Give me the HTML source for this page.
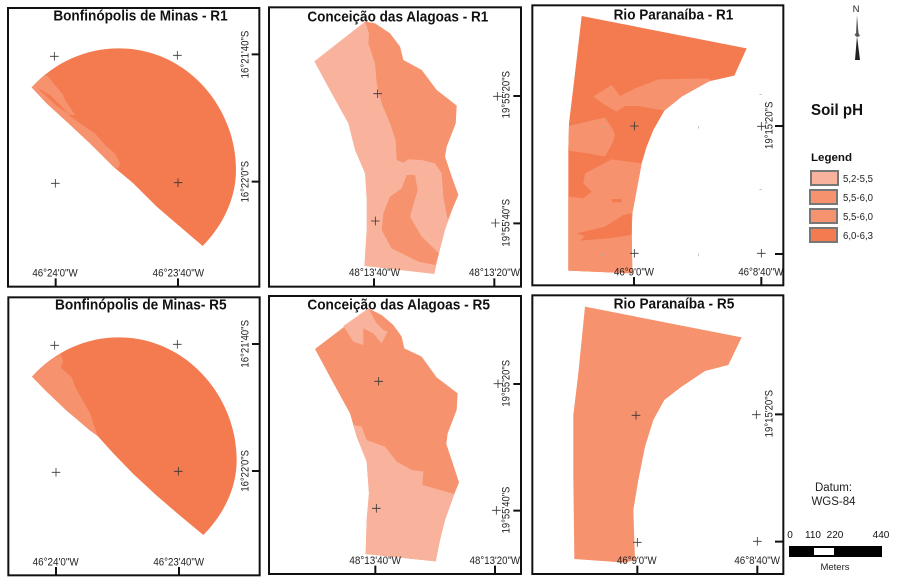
<!DOCTYPE html>
<html lang="en">
<head>
<meta charset="utf-8">
<title>Soil pH maps</title>
<style>
html,body{margin:0;padding:0;background:#fff;width:906px;height:584px;overflow:hidden}
svg{display:block}
text{font-family:"Liberation Sans",sans-serif;fill:#222}
.t{font-weight:bold;font-size:43px;fill:#111}
.l{font-size:32px}
.f{fill:none;stroke:#111;stroke-width:6}
.k{stroke:#111;stroke-width:6;fill:none}
.c{stroke:#333;stroke-width:2.4;fill:none}
.a{fill:#F9B39D}.b{fill:#F6926E}.d{fill:#F47B50}
.s{stroke:#777;stroke-width:2}
</style>
</head>
<body>
<svg width="906" height="584" viewBox="0 0 906 584" xmlns="http://www.w3.org/2000/svg">
<rect width="906" height="584" fill="#fff"/>

<g transform="scale(.33333)">
  <rect class="f" x="24" y="24" width="754" height="836"/>
  <text class="t" x="160" y="62" textLength="523" lengthAdjust="spacingAndGlyphs">Bonfinópolis de Minas - R1</text>
  <path class="d" d="M95 262C165 185 260 145 355 145C560 145 708 320 708 510C708 600 665 680 608 738L540 680L470 620L400 550L340 500L270 430L200 365L140 310Z"/>
  <polygon class="b" points="95,262 125,232 140,225 190,285 195,300 225,345 205,345 240,370 285,400 320,440 345,460 360,490 355,505 340,500 270,430 200,365 140,310"/>
  <polygon class="d" points="110,262 150,285 200,335 225,352 170,318"/>
  <path class="c" d="M150 169h26M163 156v26M519 166h26M532 153v26M153 550h26M166 537v26M521 548h26M534 535v26"/>
  <path class="k" d="M167 835v25M534 835v25M755 163h23M755 545h23"/>
  <text class="l" x="97" y="830" textLength="136" lengthAdjust="spacingAndGlyphs">46°24'0"W</text>
  <text class="l" x="458" y="830" textLength="154" lengthAdjust="spacingAndGlyphs">46°23'40"W</text>
  <text class="l" transform="translate(745 235) rotate(-90)" textLength="143" lengthAdjust="spacingAndGlyphs">16°21'40"S</text>
  <text class="l" transform="translate(745 607) rotate(-90)" textLength="124" lengthAdjust="spacingAndGlyphs">16°22'0"S</text>
</g>

<g transform="translate(265 0) scale(.33333)">
  <rect class="f" x="12" y="22" width="756" height="838"/>
  <text class="t" x="127" y="64" textLength="543" lengthAdjust="spacingAndGlyphs">Conceição das Alagoas - R1</text>
  <polygon class="a" points="148,184 300,65 330,70 375,100 405,140 415,180 470,210 515,270 575,317 572,370 545,440 540,470 560,530 580,585 565,620 540,690 522,760 508,822 298,798 305,690 305,600 300,520 270,450 250,370 200,280"/>
  <polygon class="b" points="300,65 330,70 375,100 405,140 415,180 470,210 515,270 575,317 572,370 545,440 540,470 560,530 580,585 565,620 548,660 535,590 530,520 510,490 470,480 430,478 415,488 395,480 392,420 375,370 350,310 335,250 330,190 310,130 312,100"/>
  <polygon class="b" points="425,525 450,525 458,570 435,650 470,710 522,760 510,795 460,785 380,745 350,690 355,640 375,590 410,565"/>
  <path class="c" d="M325 281h26M338 268v26M684 289h26M697 276v26M318 663h26M331 650v26M678 669h26M691 656v26"/>
  <path class="k" d="M327 835v25M688 835v25M745 288h23M745 670h23"/>
  <text class="l" x="252" y="828" textLength="153" lengthAdjust="spacingAndGlyphs">48°13'40"W</text>
  <text class="l" x="612" y="828" textLength="153" lengthAdjust="spacingAndGlyphs">48°13'20"W</text>
  <text class="l" transform="translate(733 355) rotate(-90)" textLength="142" lengthAdjust="spacingAndGlyphs">19°55'20"S</text>
  <text class="l" transform="translate(733 740) rotate(-90)" textLength="143" lengthAdjust="spacingAndGlyphs">19°55'40"S</text>
</g>

<g transform="translate(525 0) scale(.33333)">
  <rect class="f" x="22" y="16" width="753" height="840"/>
  <text class="t" x="266" y="58" textLength="359" lengthAdjust="spacingAndGlyphs">Rio Paranaíba - R1</text>
  <polygon class="d" points="170,48 665,145 628,227 548,245 470,290 418,332 385,390 365,440 350,490 335,570 322,640 320,700 322,820 130,812 130,450 132,370 150,220"/>
  <polygon class="b" points="205,290 260,255 285,288 330,265 400,238 545,235 560,240 470,290 418,332 340,318 300,318 275,335 240,315"/>
  <polygon class="b" points="132,378 240,352 262,385 270,405 262,430 240,470 190,460 130,452"/>
  <polygon class="b" points="180,520 260,478 350,490 335,570 322,640 320,700 322,820 130,812 130,590 175,595 200,575 175,550"/>
  <polygon class="d" points="155,700 240,680 295,645 320,640 320,705 250,715 165,722 180,708"/>
  <polygon class="d" points="258,597 290,597 290,607 262,607"/>
  <path class="c" d="M315 378h26M328 365v26M696 379h26M709 366v26M315 760h26M328 747v26M696 760h26M709 747v26"/>
  <path d="M233 378v8M520 378v8M233 761v8M520 761v8M703 283h8M703 568h8" stroke="#aaa" stroke-width="2" fill="none"/>
  <path class="k" d="M327 831v25M709 831v25M750 378h25M750 762h25"/>
  <text class="l" x="267" y="826" textLength="120" lengthAdjust="spacingAndGlyphs">46°9'0"W</text>
  <text class="l" x="640" y="826" textLength="135" lengthAdjust="spacingAndGlyphs">46°8'40"W</text>
  <text class="l" transform="translate(743 447) rotate(-90)" textLength="142" lengthAdjust="spacingAndGlyphs">19°15'20"S</text>
</g>

<g transform="translate(0 290) scale(.33333)">
  <rect class="f" x="25" y="22" width="754" height="834"/>
  <text class="t" x="165" y="58" textLength="515" lengthAdjust="spacingAndGlyphs">Bonfinópolis de Minas- R5</text>
  <path class="d" d="M96 260C165 183 260 142 355 142C560 142 710 320 710 510C710 600 667 677 610 735L540 677L470 617L400 552L340 490L293 438L200 362L140 305Z"/>
  <polygon class="b" points="96,260 135,222 182,192 190,215 182,232 215,262 225,290 270,370 293,438 270,422 200,362 140,305"/>
  <path class="c" d="M151 166h26M164 153v26M519 163h26M532 150v26M155 547h26M168 534v26M522 544h26M535 531v26"/>
  <path class="k" d="M168 831v25M537 831v25M756 162h23M756 543h23"/>
  <text class="l" x="98" y="826" textLength="138" lengthAdjust="spacingAndGlyphs">46°24'0"W</text>
  <text class="l" x="460" y="826" textLength="152" lengthAdjust="spacingAndGlyphs">46°23'40"W</text>
  <text class="l" transform="translate(745 233) rotate(-90)" textLength="143" lengthAdjust="spacingAndGlyphs">16°21'40"S</text>
  <text class="l" transform="translate(745 605) rotate(-90)" textLength="125" lengthAdjust="spacingAndGlyphs">16°22'0"S</text>
</g>

<g transform="translate(265 290) scale(.33333)">
  <rect class="f" x="12" y="18" width="756" height="834"/>
  <text class="t" x="127" y="58" textLength="548" lengthAdjust="spacingAndGlyphs">Conceição das Alagoas - R5</text>
  <polygon class="b" points="150,177 310,55 350,75 385,105 410,140 418,175 470,200 515,262 578,310 575,360 548,430 544,462 565,525 582,577 568,612 540,690 525,750 512,814 302,792 305,690 312,610 305,515 275,440 255,370 200,270"/>
  <polygon class="a" points="265,405 290,410 305,450 360,470 395,515 440,540 475,545 472,585 568,612 540,690 525,750 512,814 302,792 305,690 312,610 305,515 275,440"/>
  <polygon class="a" points="235,108 310,55 335,100 355,120 368,125 350,160 325,130 295,115 295,165 265,155"/>
  <path class="c" d="M328 274h26M341 261v26M686 281h26M699 268v26M321 655h26M334 642v26M681 661h26M694 648v26"/>
  <path class="k" d="M331 827v25M690 827v25M745 282h23M745 662h23"/>
  <text class="l" x="253" y="822" textLength="155" lengthAdjust="spacingAndGlyphs">48°13'40"W</text>
  <text class="l" x="614" y="822" textLength="151" lengthAdjust="spacingAndGlyphs">48°13'20"W</text>
  <text class="l" transform="translate(733 350) rotate(-90)" textLength="140" lengthAdjust="spacingAndGlyphs">19°55'20"S</text>
  <text class="l" transform="translate(733 730) rotate(-90)" textLength="140" lengthAdjust="spacingAndGlyphs">19°55'40"S</text>
</g>

<g transform="translate(525 290) scale(.33333)">
  <rect class="f" x="22" y="16" width="753" height="836"/>
  <text class="t" x="266" y="56" textLength="362" lengthAdjust="spacingAndGlyphs">Rio Paranaíba - R5</text>
  <polygon class="b" points="180,50 650,142 610,225 540,243 470,290 418,330 385,390 360,470 340,570 325,660 330,810 300,818 148,807 145,560 145,375 160,250"/>
  <path class="c" d="M320 376h26M333 363v26M681 374h26M694 361v26M324 757h26M337 744v26M684 754h26M697 741v26"/>
  <path class="k" d="M337 827v25M697 827v25M750 373h25M750 755h25"/>
  <text class="l" x="276" y="822" textLength="119" lengthAdjust="spacingAndGlyphs">46°9'0"W</text>
  <text class="l" x="628" y="822" textLength="137" lengthAdjust="spacingAndGlyphs">46°8'40"W</text>
  <text class="l" transform="translate(743 442) rotate(-90)" textLength="142" lengthAdjust="spacingAndGlyphs">19°15'20"S</text>
</g>

<g>
  <text x="856" y="12" text-anchor="middle" font-size="9.5">N</text>
  <polygon points="857,15 858.5,33 860,36 857,37 854.5,35 856,33" fill="#555"/>
  <polygon points="857,36 860,60 857,60 855,60" fill="#222"/>
</g>

<text x="811" y="115" font-size="16" font-weight="bold" textLength="52" lengthAdjust="spacingAndGlyphs" style="fill:#111">Soil pH</text>

<g>
  <text x="811" y="161" font-size="11" font-weight="bold" textLength="41" lengthAdjust="spacingAndGlyphs" style="fill:#111">Legend</text>
  <g>
    <rect class="a s" x="811" y="171" width="27" height="14"/>
    <text x="843" y="182" font-size="10" textLength="30" lengthAdjust="spacingAndGlyphs">5,2-5,5</text>
  </g>
  <g>
    <rect class="b s" x="810" y="190" width="27" height="14"/>
    <text x="843" y="201" font-size="10" textLength="30" lengthAdjust="spacingAndGlyphs">5,5-6,0</text>
  </g>
  <g>
    <rect class="b s" x="810" y="209" width="27" height="14"/>
    <text x="843" y="220" font-size="10" textLength="30" lengthAdjust="spacingAndGlyphs">5,5-6,0</text>
  </g>
  <g>
    <rect class="d s" x="810" y="228" width="27" height="14"/>
    <text x="843" y="239" font-size="10" textLength="30" lengthAdjust="spacingAndGlyphs">6,0-6,3</text>
  </g>
</g>

<g>
  <text x="833.5" y="491" font-size="11.5" text-anchor="middle">Datum:</text>
  <text x="833.5" y="505" font-size="11.5" text-anchor="middle">WGS-84</text>
</g>

<g>
  <text x="790" y="538" font-size="10" text-anchor="middle" style="fill:#111">0</text>
  <text x="813" y="538" font-size="10" text-anchor="middle" style="fill:#111">110</text>
  <text x="835" y="538" font-size="10" text-anchor="middle" style="fill:#111">220</text>
  <text x="881" y="538" font-size="10" text-anchor="middle" style="fill:#111">440</text>
  <rect x="789" y="546" width="93" height="11" fill="#000"/>
  <rect x="814" y="548" width="20" height="7" fill="#fff"/>
  <text x="835" y="570" font-size="9.5" text-anchor="middle">Meters</text>
</g>
</svg>
</body>
</html>
